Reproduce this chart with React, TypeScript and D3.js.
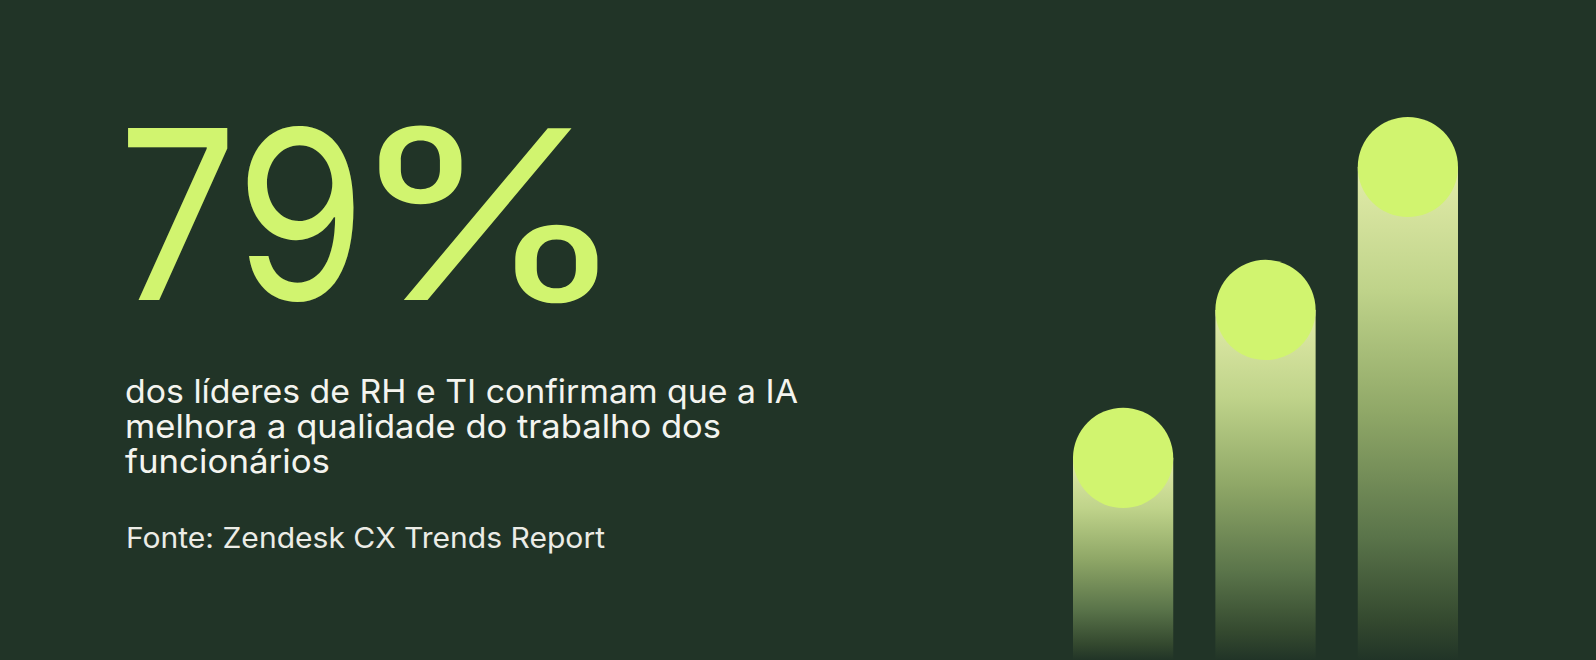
import React from "react";
import * as d3 from "d3";

const W = 1596;
const H = 660;

const categories = ["A", "B", "C"];
const values = [41, 71, 100];

const headlineNum = "79";
const headlinePct = "%";
const bodyLines = [
  "dos líderes de RH e TI confirmam que a IA",
  "melhora a qualidade do trabalho dos",
  "funcionários",
];
const bodyWidths = [673, 596, 205];
const sourceText = "Fonte: Zendesk CX Trends Report";

const BG = "#213427";
const LIME = "#d1f46f";
const FONT = "Inter, 'Open Sans', sans-serif";

export default function App() {
  const x = d3
    .scaleBand<string>()
    .domain(categories)
    .range([1073, 1458])
    .paddingInner(0.296)
    .paddingOuter(0);
  const y = d3.scaleLinear().domain([0, 100]).range([H, 167]);
  const bw = x.bandwidth();
  const r = bw / 2;

  return (
    <svg
      width={W}
      height={H}
      viewBox={`0 0 ${W} ${H}`}
      style={{ position: "absolute", left: 0, top: 0, display: "block" }}
    >
      <defs>
        <linearGradient id="barGrad" x1="0" y1="0" x2="0" y2="1">
          <stop offset="0" stopColor="#e2eca9" />
          <stop offset="0.25" stopColor="#bfd38a" />
          <stop offset="0.5" stopColor="#8fa767" />
          <stop offset="0.75" stopColor="#5a744a" />
          <stop offset="0.92" stopColor="#34492f" />
          <stop offset="1" stopColor={BG} />
        </linearGradient>
      </defs>
      <rect x={0} y={0} width={W} height={H} fill={BG} />

      <text
        x={118}
        y={300}
        fontFamily={FONT}
        fontSize={236}
        fontWeight={400}
        fill={LIME}
        textLength={248}
        lengthAdjust="spacingAndGlyphs"
      >
        {headlineNum}
      </text>
      <g transform="translate(347,300) scale(1.22,1)">
        <text
          x={0}
          y={0}
          fontFamily={FONT}
          fontSize={236}
          fontWeight={400}
          fill={LIME}
        >
          {headlinePct}
        </text>
      </g>

      {bodyLines.map((line, i) => (
        <text
          key={i}
          x={125}
          y={403 + i * 35}
          fontFamily={FONT}
          fontSize={33}
          fill="#f4f4ef"
          textLength={bodyWidths[i]}
          lengthAdjust="spacingAndGlyphs"
        >
          {line}
        </text>
      ))}

      <text
        x={126}
        y={548}
        fontFamily={FONT}
        fontSize={28.5}
        fill="#ecece6"
        textLength={479}
        lengthAdjust="spacingAndGlyphs"
      >
        {sourceText}
      </text>

      {categories.map((c, i) => {
        const x0 = x(c)!;
        const cy = y(values[i]);
        return (
          <g key={c}>
            <rect x={x0} y={cy} width={bw} height={H - cy} fill="url(#barGrad)" />
            <circle cx={x0 + r} cy={cy} r={r} fill={LIME} />
          </g>
        );
      })}
    </svg>
  );
}
